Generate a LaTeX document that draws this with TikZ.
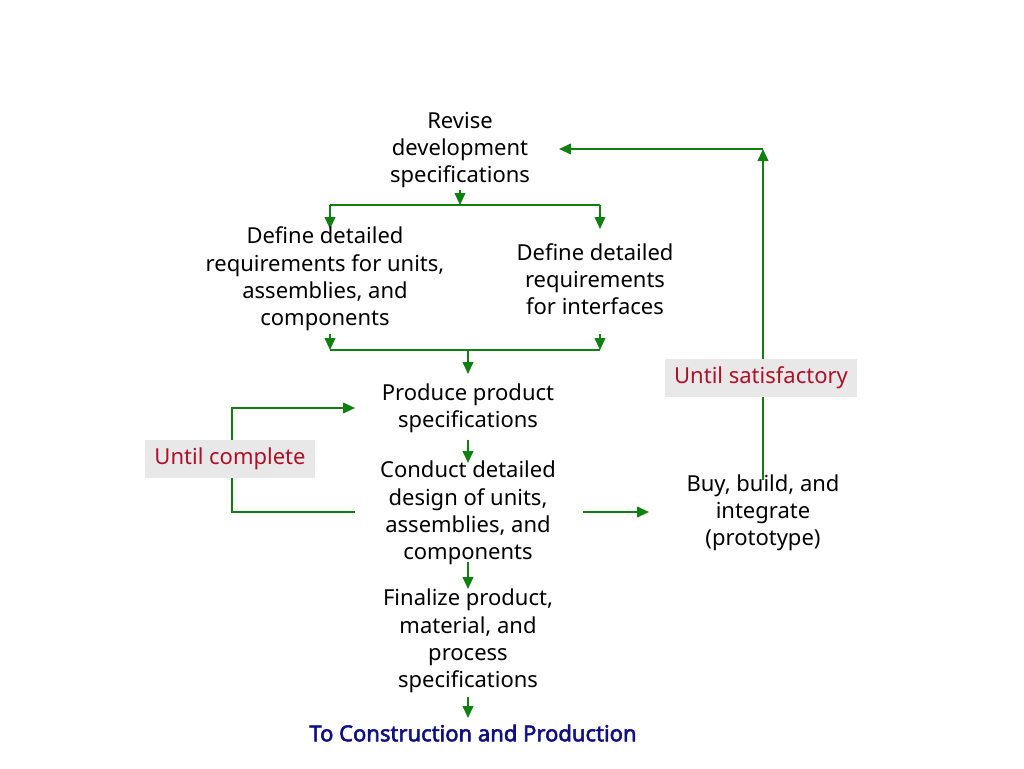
\documentclass[tikz,border=0pt]{standalone}
\usepackage{fontspec}
\setmainfont{Noto Sans}
\newfontfamily\boldf{Noto Sans}[FakeBold=2.5]
\usetikzlibrary{arrows.meta}
\definecolor{gr}{RGB}{16,128,16}
\definecolor{lbl}{RGB}{175,15,40}
\definecolor{lblbg}{RGB}{232,232,232}
\definecolor{navy}{RGB}{15,15,130}
\begin{document}
\begin{tikzpicture}[x=0.75pt,y=-0.75pt,
  txt/.style={align=center,font=\fontsize{16.5}{20.4}\selectfont,inner sep=0pt},
  lab/.style={fill=lblbg,text=lbl,font=\fontsize{16.5}{18}\selectfont,inner xsep=7pt,inner ysep=6pt},
  ar/.style={draw=gr,line width=1.3pt,-{Triangle[length=9pt,width=8pt]}},
  ln/.style={draw=gr,line width=1.3pt}]
\useasboundingbox (0,0) rectangle (1024,768);
% top split
\coordinate (t0) at (460,190); \coordinate (t1) at (460,205);
\coordinate (tl) at (330,205); \coordinate (tr) at (600,205);
\coordinate (tl2) at (330,229); \coordinate (tr2) at (600,229);
\draw[ar] (t0) -- (t1);
\draw[ln] (tl) -- (tr);
\draw[ar] (tl) -- (tl2);
\draw[ar] (tr) -- (tr2);
% bottom merge
\coordinate (bl0) at (330,334); \coordinate (bl) at (330,350);
\coordinate (br0) at (600,334); \coordinate (br) at (600,350);
\coordinate (bm) at (468,350); \coordinate (bm2) at (468,374);
\draw[ar] (bl0) -- (bl);
\draw[ar] (br0) -- (br);
\draw[ln] (bl) -- (br);
\draw[ar] (bm) -- (bm2);
% chain
\coordinate (p1) at (468,440); \coordinate (p2) at (468,463);
\draw[ar] (p1) -- (p2);
\coordinate (c1) at (468,562); \coordinate (c2) at (468,589);
\draw[ar] (c1) -- (c2);
\coordinate (f1) at (468,697); \coordinate (f2) at (468,718);
\draw[ar] (f1) -- (f2);
\coordinate (cb1) at (583,512); \coordinate (cb2) at (649,512);
\draw[ar] (cb1) -- (cb2);
% left loop
\coordinate (l0) at (355,512); \coordinate (l1) at (232,512);
\coordinate (l2) at (232,408); \coordinate (l3) at (355,408);
\draw[ar] (l0) -- (l1) -- (l2) -- (l3);
% right loop
\coordinate (r0) at (763,480); \coordinate (r1) at (763,149);
\coordinate (r2) at (559,149);
\draw[ar] (r0) -- (r1);
\draw[ar] (r1) -- (r2);
\node[txt] (rev) at (460,150) {Revise\\development\\specifications};
\node[txt] (d1) at (325,279) {Define detailed\\requirements for units,\\assemblies, and\\components};
\node[txt] (d2) at (595,279) {Define detailed\\requirements\\for interfaces};
\node[txt] (prod) at (468,408) {Produce product\\specifications};
\node[txt] (cond) at (468,513) {Conduct detailed\\design of units,\\assemblies, and\\components};
\node[txt] (fin) at (468,641) {Finalize product,\\material, and\\process\\specifications};
\node[txt,text=navy,font=\fontsize{16.5}{18}\boldf] (to) at (473,733) {To Construction and Production};
\node[txt] (buy) at (763,513) {Buy, build, and\\integrate\\(prototype)};
\node[lab] (uc) at (230,459) {Until complete};
\node[lab] (us) at (761,378) {Until satisfactory};
\end{tikzpicture}
\end{document}
